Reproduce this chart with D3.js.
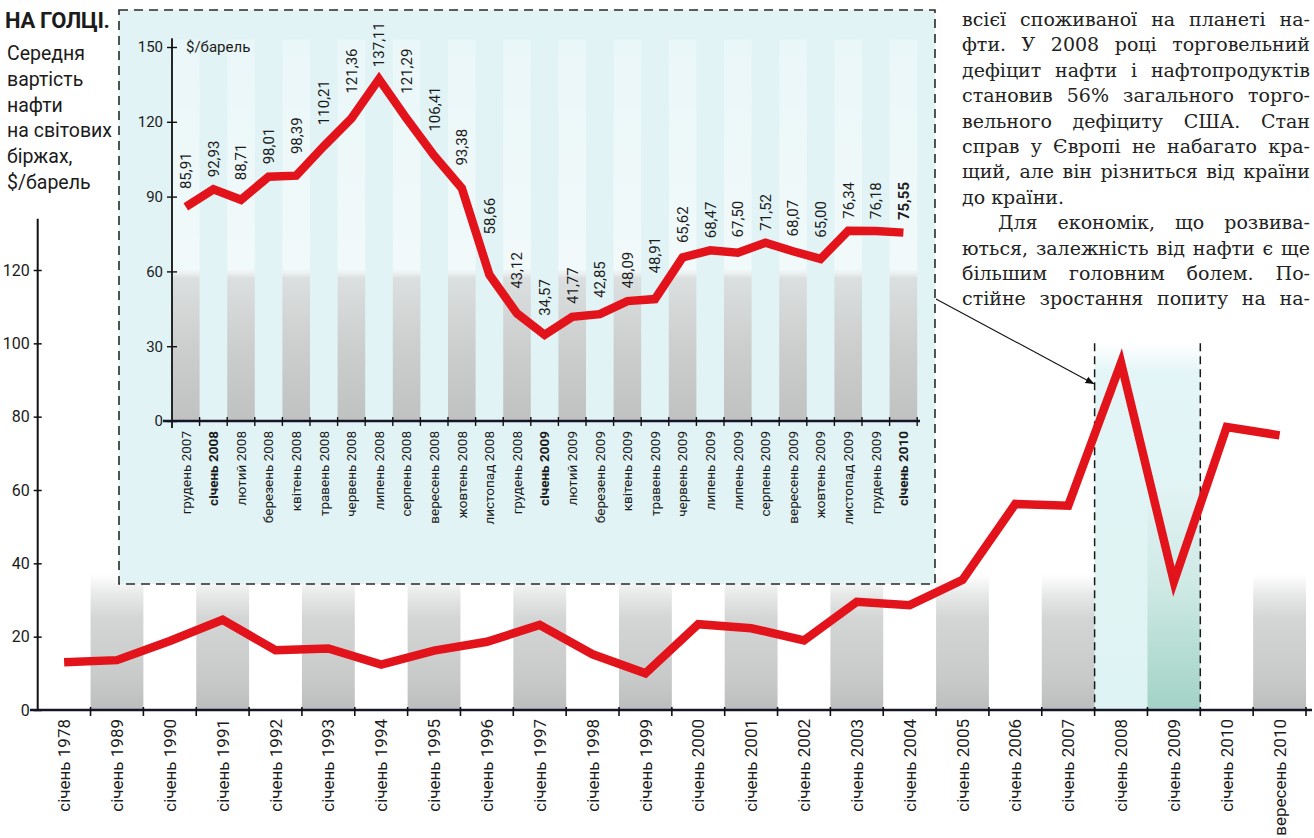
<!DOCTYPE html>
<html lang="uk">
<head>
<meta charset="utf-8">
<script src="https://cdn.jsdelivr.net/npm/d3@7/dist/d3.min.js"></script>
<style>
  html, body { margin: 0; padding: 0; background: #ffffff; }
  svg { display: block; }
  text { font-family: Roboto, "Noto Sans", sans-serif; fill: #1b1b1b; }
  text.serif, text.serif tspan { font-family: "DejaVu Serif", "Liberation Serif", serif; }
</style>
</head>
<body>
<script>
// ---------------- DATA ----------------
const mainCategories = ["січень 1978","січень 1989","січень 1990","січень 1991","січень 1992","січень 1993",
  "січень 1994","січень 1995","січень 1996","січень 1997","січень 1998","січень 1999","січень 2000",
  "січень 2001","січень 2002","січень 2003","січень 2004","січень 2005","січень 2006","січень 2007",
  "січень 2008","січень 2009","січень 2010","вересень 2010"];
const mainValues = [13.0, 13.6, 18.8, 24.6, 16.3, 16.8, 12.4, 16.2, 18.6, 23.2, 15.2, 10.0, 23.4,
  22.3, 19.0, 29.5, 28.6, 35.5, 56.2, 55.7, 94.7, 35.0, 77.2, 74.9];
const mainYTicks = [0, 20, 40, 60, 80, 100, 120];

const insetCategories = ["грудень 2007","січень 2008","лютий 2008","березень 2008","квітень 2008",
  "травень 2008","червень 2008","липень 2008","серпень 2008","вересень 2008","жовтень 2008",
  "листопад 2008","грудень 2008","січень 2009","лютий 2009","березень 2009","квітень 2009",
  "травень 2009","червень 2009","липень 2009","липень 2009","серпень 2009","вересень 2009",
  "жовтень 2009","листопад 2009","грудень 2009","січень 2010"];
const insetValues = [85.91, 92.93, 88.71, 98.01, 98.39, 110.21, 121.36, 137.11, 121.29, 106.41, 93.38,
  58.66, 43.12, 34.57, 41.77, 42.85, 48.09, 48.91, 65.62, 68.47, 67.50, 71.52, 68.07, 65.00,
  76.34, 76.18, 75.55];
const insetYTicks = [0, 30, 60, 90, 120, 150];
const insetUnit = "$/барель";

const titleText = "НА ГОЛЦІ.";
const subtitleLines = ["Середня", "вартість", "нафти", "на світових", "біржах,", "$/барель"];

const articleLines = [
  "всієї споживаної на планеті на-",
  "фти. У 2008 році торговельний",
  "дефіцит нафти і нафтопродуктів",
  "становив 56% загального торго-",
  "вельного дефіциту США. Стан",
  "справ у Європі не набагато кра-",
  "щий, але він різниться від країни",
  "до країни.",
  "Для економік, що розвива-",
  "ються, залежність від нафти є ще",
  "більшим головним болем. По-",
  "стійне зростання попиту на на-"
];
const articleParagraphStarts = [8];

// ---------------- SETUP ----------------
const W = 1314, H = 838;
const RED = "#e3131b";
const SERIF = '"DejaVu Serif", "Liberation Serif", serif';
const svg = d3.select("body").append("svg").attr("width", W).attr("height", H);
const defs = svg.append("defs");

function vGrad(id, stops) {
  const g = defs.append("linearGradient").attr("id", id)
    .attr("x1", 0).attr("y1", 0).attr("x2", 0).attr("y2", 1);
  stops.forEach(s => g.append("stop").attr("offset", s[0]).attr("stop-color", s[1])
    .attr("stop-opacity", s[2] == null ? 1 : s[2]));
}
vGrad("mainBar", [[0, "#ffffff"], [0.16, "#e6e7e7"], [0.32, "#d4d5d5"], [0.75, "#c9caca"], [1, "#bcbdbd"]]);
vGrad("tealBar", [[0, "#e2f4f4"], [0.45, "#cfe9e5"], [0.7, "#b9dfd6"], [1, "#a3d2c6"]]);
vGrad("hlGrad", [[0, "#e3f5f6", 0], [0.08, "#e3f5f6", 1], [1, "#def3f3", 1]]);
vGrad("insetBar", [[0, "#ffffff", 0.3], [0.6, "#ffffff", 0.55], [0.625, "#dcdfdf", 1],
  [0.8, "#cdcfcf", 1], [1, "#c0c2c2", 1]]);

defs.append("marker").attr("id", "arrow").attr("viewBox", "0 0 10 10")
  .attr("refX", 9).attr("refY", 5).attr("markerWidth", 9).attr("markerHeight", 9)
  .attr("orient", "auto").attr("markerUnits", "userSpaceOnUse")
  .append("path").attr("d", "M0,1 L10,5 L0,9 Z").attr("fill", "#111");

// ---------------- MAIN CHART ----------------
const xM = d3.scaleBand().domain(mainCategories).range([37.7, 1306]).padding(0);
const yM = d3.scaleLinear().domain([0, 120]).range([710, 270]);
const bwM = xM.bandwidth();
const hlStart = "січень 2008", hlEnd = "січень 2009";

const gMain = svg.append("g");

// highlight region 2008-2009
gMain.append("rect")
  .attr("x", xM(hlStart)).attr("width", xM(hlEnd) + bwM - xM(hlStart))
  .attr("y", yM(100)).attr("height", yM(0) - yM(100))
  .attr("fill", "url(#hlGrad)");

// alternating bars
gMain.selectAll("rect.bar").data(mainCategories.filter((d, i) => i % 2 === 1))
  .join("rect").attr("class", "bar")
  .attr("x", d => xM(d)).attr("width", bwM)
  .attr("y", d => d === hlEnd ? yM(62) : yM(37))
  .attr("height", d => d === hlEnd ? yM(0) - yM(62) : yM(0) - yM(37))
  .attr("fill", d => d === hlEnd ? "url(#tealBar)" : "url(#mainBar)");

// dashed vertical lines
[xM(hlStart), xM(hlEnd) + bwM].forEach(x => {
  gMain.append("line").attr("x1", x).attr("x2", x).attr("y1", yM(100)).attr("y2", yM(0))
    .attr("stroke", "#1a1a1a").attr("stroke-width", 1.5).attr("stroke-dasharray", "8,5");
});

// y axis
const yAxisM = gMain.append("g").attr("transform", `translate(${xM.range()[0]},0)`)
  .call(d3.axisLeft(yM).tickValues(mainYTicks).tickSize(5).tickPadding(4));
yAxisM.select(".domain").remove();
yAxisM.selectAll(".tick line").attr("x1", 4).attr("x2", -4).attr("stroke", "#111").attr("stroke-width", 1.5);
yAxisM.selectAll(".tick text").attr("font-size", 16).attr("x", -8).style("font-family", "Roboto");
yAxisM.append("line").attr("x1", 0).attr("x2", 0).attr("y1", yM(134)).attr("y2", yM(0))
  .attr("stroke", "#111").attr("stroke-width", 2);

// x axis
const xAxisM = gMain.append("g").attr("transform", `translate(0,${yM(0)})`)
  .call(d3.axisBottom(xM).tickSize(0).tickPadding(0));
xAxisM.select(".domain").remove();
xAxisM.selectAll(".tick text")
  .attr("transform", "rotate(-90)").attr("text-anchor", "end")
  .attr("x", -9).attr("y", 0).attr("dy", "0.36em")
  .attr("font-size", 17).style("font-family", "Roboto");
xAxisM.append("line").attr("x1", 30).attr("x2", 1312).attr("y1", 0).attr("y2", 0)
  .attr("stroke", "#15152a").attr("stroke-width", 2.6);
xAxisM.selectAll("line.bnd").data(mainCategories.map(d => xM(d)).concat([xM.range()[1]]).slice(1))
  .join("line").attr("class", "bnd")
  .attr("x1", d => d).attr("x2", d => d).attr("y1", -3).attr("y2", 6)
  .attr("stroke", "#111").attr("stroke-width", 1.6);

// main line
gMain.append("path").datum(mainValues)
  .attr("d", d3.line().x((d, i) => xM(mainCategories[i]) + bwM / 2).y(d => yM(d)))
  .attr("fill", "none").attr("stroke", RED).attr("stroke-width", 8.5)
  .attr("stroke-linejoin", "miter").attr("stroke-miterlimit", 6);

// ---------------- INSET ----------------
const box = { x: 119, y: 10, w: 816, h: 574 };
const gIn = svg.append("g");
gIn.append("rect").attr("x", box.x).attr("y", box.y).attr("width", box.w).attr("height", box.h)
  .attr("fill", "#e1f3f5").attr("stroke", "#2a2a2a").attr("stroke-width", 1.6)
  .attr("stroke-dasharray", "9,6");

const idx = d3.range(insetCategories.length);
const xI = d3.scaleBand().domain(idx).range([172, 172 + 27 * 27.6]).padding(0);
const yI = d3.scaleLinear().domain([0, 150]).range([421, 47]);
const bwI = xI.bandwidth();

gIn.selectAll("rect.ibar").data(idx.filter(i => i % 2 === 0)).join("rect").attr("class", "ibar")
  .attr("x", i => xI(i)).attr("width", bwI)
  .attr("y", yI(153)).attr("height", yI(0) - yI(153))
  .attr("fill", "url(#insetBar)");

// inset y axis
const yAxisI = gIn.append("g").attr("transform", `translate(${xI.range()[0]},0)`)
  .call(d3.axisLeft(yI).tickValues(insetYTicks).tickSize(5).tickPadding(4));
yAxisI.select(".domain").remove();
yAxisI.selectAll(".tick line").attr("x1", 5).attr("x2", -5).attr("stroke", "#111").attr("stroke-width", 1.4);
yAxisI.selectAll(".tick text").attr("font-size", 15).attr("x", -9).style("font-family", "Roboto");
yAxisI.append("line").attr("x1", 0).attr("x2", 0).attr("y1", yI(153.5)).attr("y2", yI(0) + 7)
  .attr("stroke", "#111").attr("stroke-width", 1.8);
yAxisI.append("text").attr("x", 14).attr("y", yI(150)).attr("dy", "0.36em")
  .attr("text-anchor", "start").attr("fill", "#1b1b1b")
  .attr("font-size", 15).style("font-family", "Roboto").text(insetUnit);

// inset x axis
const xAxisI = gIn.append("g").attr("transform", `translate(0,${yI(0)})`)
  .call(d3.axisBottom(xI).tickSize(0).tickPadding(0).tickFormat(i => insetCategories[i]));
xAxisI.select(".domain").remove();
xAxisI.selectAll(".tick text")
  .attr("transform", "rotate(-90)").attr("text-anchor", "end")
  .attr("x", -10).attr("y", 0).attr("dy", "0.36em")
  .attr("font-size", 13.5).style("font-family", "Roboto")
  .attr("font-weight", i => insetCategories[i].startsWith("січень") ? 700 : 400);
xAxisI.append("line").attr("x1", 163).attr("x2", 920).attr("y1", 0).attr("y2", 0)
  .attr("stroke", "#15152a").attr("stroke-width", 2.4);
xAxisI.selectAll("line.bnd").data(idx.map(i => xI(i) + bwI))
  .join("line").attr("class", "bnd")
  .attr("x1", d => d).attr("x2", d => d).attr("y1", -4).attr("y2", 5)
  .attr("stroke", "#111").attr("stroke-width", 1.4);

// inset line
const px = i => xI(i) + bwI / 2;
gIn.append("path").datum(insetValues)
  .attr("d", d3.line().x((d, i) => px(i)).y(d => yI(d)))
  .attr("fill", "none").attr("stroke", RED).attr("stroke-width", 8.5)
  .attr("stroke-linejoin", "miter").attr("stroke-miterlimit", 6);

// value labels
const fmt = v => d3.format(".2f")(v).replace(".", ",");
const labelBase = insetValues.map((v, i) => {
  const frac = 9 / bwI;
  let top = yI(v);
  if (i > 0) top = Math.min(top, yI(v + (insetValues[i - 1] - v) * frac));
  if (i < insetValues.length - 1) top = Math.min(top, yI(v + (insetValues[i + 1] - v) * frac));
  return top - 12;
});
gIn.selectAll("text.val").data(insetValues).join("text").attr("class", "val")
  .attr("transform", (d, i) => `translate(${px(i)},${labelBase[i]}) rotate(-90)`)
  .attr("dy", "0.36em").attr("font-size", 15)
  .attr("font-weight", (d, i) => i === insetValues.length - 1 ? 700 : 400)
  .text(d => fmt(d));

// arrow from inset to main chart
svg.append("line")
  .attr("x1", box.x + box.w + 1).attr("y1", 299)
  .attr("x2", xM(hlStart) - 1).attr("y2", yM(89))
  .attr("stroke", "#111").attr("stroke-width", 1.1).attr("marker-end", "url(#arrow)");

// ---------------- LEFT TITLE ----------------
svg.append("text").attr("x", 5).attr("y", 28).attr("font-size", 22).attr("font-weight", 700)
  .attr("letter-spacing", -0.3).text(titleText);
svg.selectAll("text.sub").data(subtitleLines).join("text").attr("class", "sub")
  .attr("x", 7).attr("y", (d, i) => 60 + i * 25.8).attr("font-size", 19.5).text(d => d);

// ---------------- ARTICLE TEXT (justified by word spacing) ----------------
const artX0 = 962, artX1 = 1310, artFont = 19;
const gArt = svg.append("g");
const measurer = gArt.append("text").attr("class", "serif").attr("font-size", artFont)
  .style("font-family", SERIF).attr("x", -1000).attr("y", -1000);
const wordWidth = w => { measurer.text(w); return measurer.node().getComputedTextLength(); };
articleLines.forEach((line, i) => {
  const indent = articleParagraphStarts.includes(i) ? 36 : 0;
  const y = 26 + i * 25.4;
  const t = gArt.append("text").attr("class", "serif").attr("y", y)
    .attr("font-size", artFont).style("font-family", SERIF).style("fill", "#222");
  const words = line.split(" ");
  const justify = !line.endsWith(".") && words.length > 1;
  const widths = words.map(wordWidth);
  const total = d3.sum(widths);
  const avail = artX1 - artX0 - indent;
  let gap = justify ? (avail - total) / (words.length - 1) : wordWidth("a a") - wordWidth("aa");
  let scale = 1;
  if (justify && gap < 3) { scale = (avail - 3 * (words.length - 1)) / total; gap = 3; }
  let x = artX0 + indent;
  words.forEach((w, k) => {
    const ts = t.append("tspan").attr("x", x).style("font-family", SERIF).text(w);
    if (scale !== 1) ts.attr("textLength", widths[k] * scale).attr("lengthAdjust", "spacingAndGlyphs");
    x += widths[k] * scale + gap;
  });
});
measurer.remove();
</script>
</body>
</html>
